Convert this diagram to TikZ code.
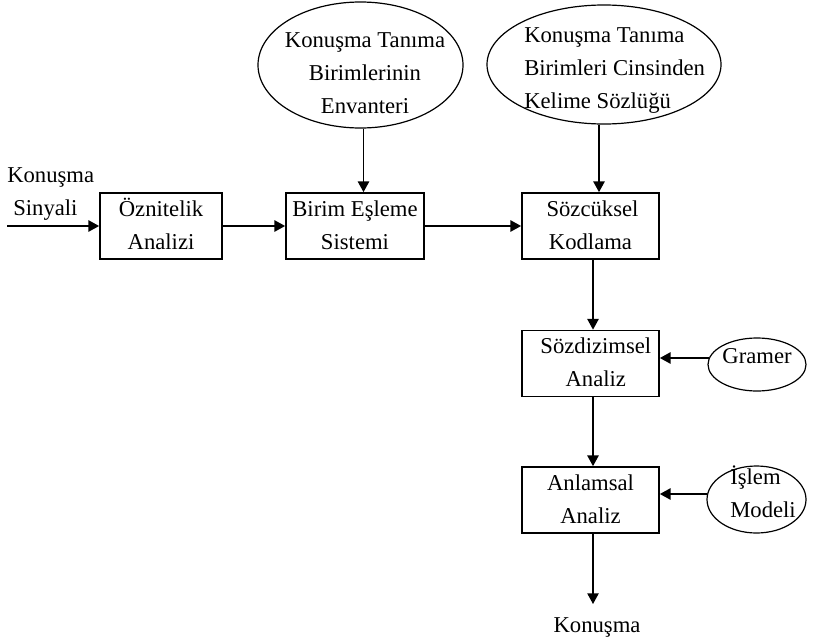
\documentclass[tikz,border=0pt]{standalone}
\usepackage{fontspec}
\setmainfont{Liberation Serif}
\usetikzlibrary{shapes.geometric,arrows.meta,calc}
\begin{document}
\begin{tikzpicture}[x=0.75pt,y=-0.75pt,
  font=\fontsize{17}{24.75}\selectfont,
  stage/.style={draw,line width=1.3pt,rectangle,inner sep=0pt,align=center,minimum height=49.5pt},
  source/.style={draw,line width=0.9pt,ellipse,inner sep=0pt},
  txt/.style={inner sep=0pt,align=center},
  flow/.style={line width=1pt,-{Triangle[length=8pt,width=8.5pt]}}]
\useasboundingbox (0,0) rectangle (813,639);

% processing stages
\node[stage,minimum width=91.5pt]   (oz) at (161,226)   {\strut Öznitelik\\Analizi\strut};
\node[stage,minimum width=103.5pt]  (be) at (355,226)   {\strut Birim Eşleme\\Sistemi\strut};
\node[stage,minimum width=102.75pt] (sk) at (590.5,226) {\strut\hspace{3pt}Sözcüksel\\Kodlama\strut};
\node[stage,minimum width=102.75pt] (sd) at (590.5,363.5) {\strut\hspace{8pt}Sözdizimsel\\\hspace{8pt}Analiz\strut};
\node[stage,minimum width=102.75pt] (an) at (590.5,500) {\strut Anlamsal\\Analiz\strut};

% knowledge sources
\node[source,minimum width=153.75pt,minimum height=94.5pt] (inv) at (360.5,65) {};
\node[txt,anchor=north] (invt) at (365,24) {\strut Konuşma Tanıma\\Birimlerinin\\Envanteri\strut};
\node[source,minimum width=175.5pt,minimum height=89.25pt] (lex) at (604,64.5) {};
\node[txt,align=left,anchor=north west] (lext) at (524,19) {\strut Konuşma Tanıma\\Birimleri Cinsinden\\Kelime Sözlüğü\strut};
\node[source,minimum width=73.5pt,minimum height=39.75pt] (gr) at (757,364.5) {};
\node[txt,anchor=base] (grt) at (757,363) {Gramer};
\node[source,minimum width=74.25pt,minimum height=50.25pt] (im) at (756.5,499.5) {};
\node[txt,align=left,anchor=north west] (imt) at (730,461) {\strut İşlem\\Modeli\strut};

% input and output labels
\node[txt,anchor=base west] (in1) at (7,182) {Konuşma};
\node[txt,anchor=base west] (in2) at (13,215) {Sinyali};
\coordinate (src) at (7,226);
\coordinate (sink) at (593,604);
\node[txt,anchor=base] (out) at (597,632) {Konuşma};

% main chain
\draw[flow] (src) -- (oz.west);
\draw[flow] (oz) -- (be);
\draw[flow] (be) -- (sk);
\coordinate (a3) at ($(sk.south)+(2.5,0)$);
\draw[flow] (a3) -- (a3 |- sd.north);
\coordinate (a4) at ($(sd.south)+(2.5,0)$);
\draw[flow] (a4) -- (a4 |- an.north);
\coordinate (a5) at ($(an.south)+(2.5,0)$);
\draw[flow] (a5) -- (a5 |- sink);

% knowledge inputs
\coordinate (a1) at ($(inv.south)+(3,0)$);
\draw[flow] (a1) -- (a1 |- be.north);
\coordinate (a2) at ($(lex.south)+(-5,0)$);
\draw[flow] (a2) -- (a2 |- sk.north);
\coordinate (g1) at ($(gr.west)+(1.5,-6.5)$);
\draw[flow] (g1) -- (g1 -| sd.east);
\coordinate (m1) at ($(im.west)+(0.7,-5.5)$);
\draw[flow] (m1) -- (m1 -| an.east);
\end{tikzpicture}
\end{document}
